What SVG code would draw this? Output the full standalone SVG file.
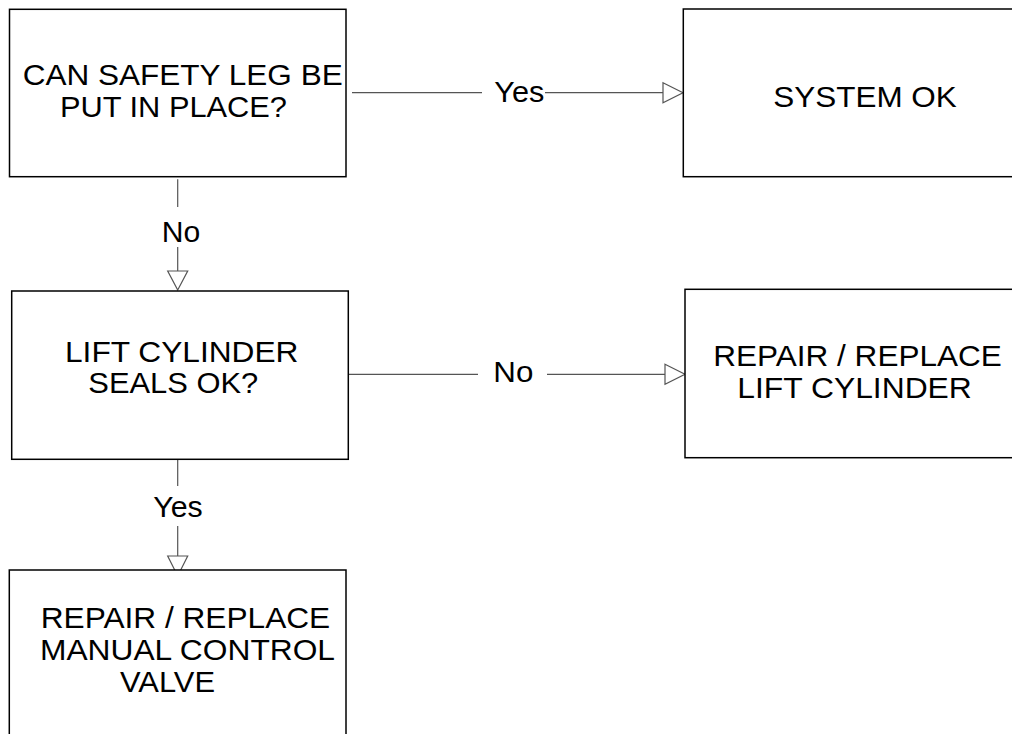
<svg xmlns="http://www.w3.org/2000/svg" width="1012" height="734" viewBox="0 0 1012 734">
<style>
.box{fill:#fff;stroke:#000;stroke-width:1.5}
.t{font-family:"Liberation Sans",Arial,sans-serif;font-size:30px;fill:#000}
.ln{stroke:#555;stroke-width:1.2;fill:none}
.ah{fill:#fff;stroke:#555;stroke-width:1.2}
</style>
<rect width="1012" height="734" fill="#fff"/>
<g id="connectors">
<line class="ln" x1="352" y1="92.7" x2="482" y2="92.7"/>
<line class="ln" x1="545" y1="92.7" x2="666" y2="92.7"/>
<polygon class="ah" points="663,82.7 683,92.7 663,102.7"/>
<text class="t" x="494.3" y="102.3" textLength="50" lengthAdjust="spacingAndGlyphs">Yes</text>
<line class="ln" x1="177.7" y1="179.3" x2="177.7" y2="207"/>
<line class="ln" x1="177.7" y1="247" x2="177.7" y2="273"/>
<polygon class="ah" points="167.7,271 187.7,271 177.7,290"/>
<text class="t" x="161.7" y="241.7" textLength="38.5" lengthAdjust="spacingAndGlyphs">No</text>
<line class="ln" x1="348" y1="374.3" x2="478" y2="374.3"/>
<line class="ln" x1="547" y1="374.3" x2="667" y2="374.3"/>
<polygon class="ah" points="665,364.3 685,374.3 665,384.3"/>
<text class="t" x="493.3" y="381.7" textLength="40" lengthAdjust="spacingAndGlyphs">No</text>
<line class="ln" x1="177.7" y1="459.5" x2="177.7" y2="486"/>
<line class="ln" x1="177.7" y1="526" x2="177.7" y2="558"/>
<polygon class="ah" points="167.7,556 187.7,556 177.7,576"/>
<text class="t" x="153.3" y="516.7" textLength="49.5" lengthAdjust="spacingAndGlyphs">Yes</text>
</g>
<g id="node-safety-leg">
<rect class="box" x="9.5" y="9.3" width="336.5" height="167.4"/>
<text class="t" x="22.7" y="85" textLength="320" lengthAdjust="spacingAndGlyphs">CAN SAFETY LEG BE</text>
<text class="t" x="60" y="117.3" textLength="227" lengthAdjust="spacingAndGlyphs">PUT IN PLACE?</text>
</g>
<g id="node-system-ok">
<rect class="box" x="683.3" y="9" width="350" height="167.7"/>
<text class="t" x="773.3" y="106.7" textLength="183.5" lengthAdjust="spacingAndGlyphs">SYSTEM OK</text>
</g>
<g id="node-seals">
<rect class="box" x="11.7" y="291" width="336.6" height="168.3"/>
<text class="t" x="65" y="361.7" textLength="233.5" lengthAdjust="spacingAndGlyphs">LIFT CYLINDER</text>
<text class="t" x="88.3" y="393.3" textLength="170" lengthAdjust="spacingAndGlyphs">SEALS OK?</text>
</g>
<g id="node-repair-cylinder">
<rect class="box" x="685" y="289.3" width="350" height="168.4"/>
<text class="t" x="713.3" y="366" textLength="288.5" lengthAdjust="spacingAndGlyphs">REPAIR / REPLACE</text>
<text class="t" x="737.3" y="398.3" textLength="234.5" lengthAdjust="spacingAndGlyphs">LIFT CYLINDER</text>
</g>
<g id="node-repair-valve">
<rect class="box" x="9.3" y="570" width="336.7" height="200"/>
<text class="t" x="40.7" y="628.3" textLength="289.5" lengthAdjust="spacingAndGlyphs">REPAIR / REPLACE</text>
<text class="t" x="40" y="660" textLength="295" lengthAdjust="spacingAndGlyphs">MANUAL CONTROL</text>
<text class="t" x="120" y="691.7" textLength="95" lengthAdjust="spacingAndGlyphs">VALVE</text>
</g>
</svg>
